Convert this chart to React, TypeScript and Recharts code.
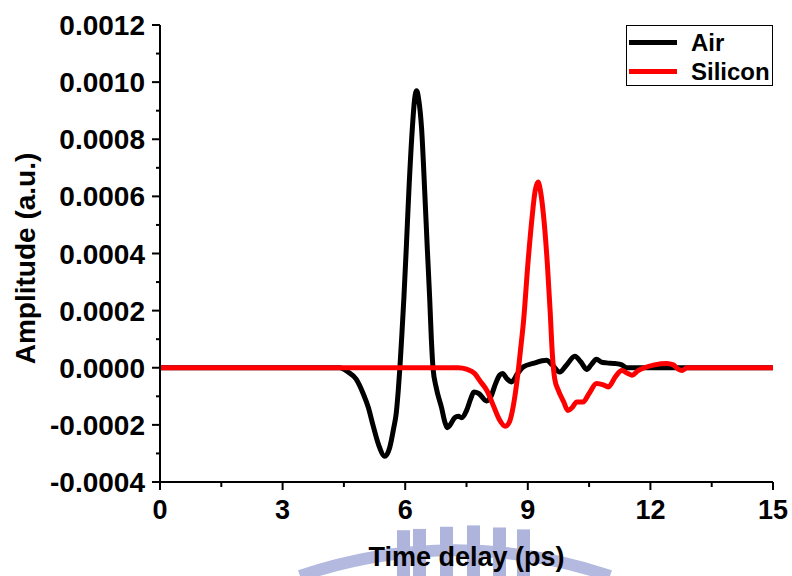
import React from 'react';
import { LineChart, Line, XAxis, YAxis, Legend, Label } from 'recharts';

// Time delay (ps) and amplitude (a.u.)
const airTime = [
  0, 4.4, 4.6, 4.8, 4.97, 5.1, 5.21, 5.35, 5.5, 5.62, 5.72, 5.78, 5.83, 5.87, 5.92, 5.97, 6.03, 6.09,
  6.18, 6.23, 6.28, 6.33, 6.4, 6.48, 6.54, 6.6, 6.64, 6.68, 6.76, 6.89, 6.97, 7.03, 7.1, 7.21, 7.3,
  7.38, 7.5, 7.6, 7.68, 7.8, 7.99, 8.1, 8.2, 8.31, 8.38, 8.5, 8.6, 8.75, 8.89, 9.13, 9.46, 9.6, 9.78,
  9.95, 10.15, 10.3, 10.44, 10.55, 10.68, 10.8, 10.93, 11.13, 11.3, 11.42, 15,
];
const airAmp = [
  0, 0, -0.000015, -0.00004, -0.00009, -0.00014, -0.0002, -0.00027, -0.00031, -0.00028, -0.00021,
  -0.00016, -0.00008, 0, 0.00012, 0.00025, 0.00043, 0.00062, 0.00085, 0.00094, 0.00097, 0.00094,
  0.00084, 0.00061, 0.00042, 0.00024, 0.0001, 0, -0.00007, -0.00014, -0.00019, -0.00021, -0.0002,
  -0.000175, -0.00017, -0.000175, -0.00015, -0.00011, -0.000085, -0.00009, -0.000116, -0.0001,
  -0.00006, -0.000026, -0.00002, -0.00004, -0.00005, -0.00002, 0.000003, 0.000015, 0.000026, 0.00001,
  -0.000015, 0.00001, 0.00004, 0.00002, -0.000006, 0.00001, 0.00003, 0.00002, 0.000017, 0.000015,
  0.00001, 0, 0,
];

const siliconTime = [
  0, 7.3, 7.5, 7.7, 7.85, 8.0, 8.15, 8.3, 8.45, 8.55, 8.65, 8.75, 8.82, 8.9, 9.0, 9.1, 9.18, 9.25,
  9.32, 9.4, 9.48, 9.55, 9.6, 9.66, 9.75, 9.88, 9.98, 10.08, 10.2, 10.35, 10.5, 10.68, 10.85, 10.97,
  11.15, 11.3, 11.45, 11.55, 11.7, 11.85, 12.1, 12.4, 12.56, 12.68, 12.77, 12.9, 15,
];
const siliconAmp = [
  0, 0, -0.000005, -0.00002, -0.00005, -0.00008, -0.00013, -0.00018, -0.000205, -0.00019, -0.00013,
  -0.00003, 0.00006, 0.00017, 0.00036, 0.00052, 0.00062, 0.00065, 0.00061, 0.00051, 0.00036, 0.00019,
  0.00005, -0.00004, -0.00008, -0.00012, -0.00015, -0.00014, -0.00012, -0.00012, -0.00009,
  -0.000055, -0.00006, -0.000067, -0.00003, -0.00001, -0.00002, -0.000026, -0.00001, 0, 0.00001,
  0.000015, 0.00001, -0.000005, -0.00001, 0, 0,
];

const xTicks = [0, 1.5, 3, 4.5, 6, 7.5, 9, 10.5, 12, 13.5, 15];
const xMajor = [0, 3, 6, 9, 12, 15];
const yTicks = [
  -0.0004, -0.0003, -0.0002, -0.0001, 0, 0.0001, 0.0002, 0.0003, 0.0004, 0.0005, 0.0006, 0.0007,
  0.0008, 0.0009, 0.001, 0.0011, 0.0012,
];
const yMajor = [-0.0004, -0.0002, 0, 0.0002, 0.0004, 0.0006, 0.0008, 0.001, 0.0012];

const airData = airTime.map((t, i) => ({ t, amp: airAmp[i] }));
const siliconData = siliconTime.map((t, i) => ({ t, amp: siliconAmp[i] }));

const FONT = '"Liberation Sans", Arial, Helvetica, sans-serif';
const AXIS = { stroke: '#000', strokeWidth: 2 };

const isMajor = (v: number, list: number[]) => list.some((m) => Math.abs(m - v) < 1e-9);

function BottomTick({ x, y, payload }: any) {
  const major = isMajor(payload.value, xMajor);
  return (
    <g>
      <line x1={x} x2={x} y1={y} y2={y + (major ? 8 : 5)} stroke="#000" strokeWidth={2} />
      {major && (
        <text x={x} y={y + 37} textAnchor="middle" fontSize={27} fontWeight="bold" fontFamily={FONT} fill="#000">
          {payload.value}
        </text>
      )}
    </g>
  );
}

function TopTick({ x, y, payload }: any) {
  if (payload.value === 0 || payload.value === 15) return <g />;
  return <line x1={x} x2={x} y1={y} y2={y + 7} stroke="#000" strokeWidth={2} />;
}

function LeftTick({ x, y, payload }: any) {
  const major = isMajor(payload.value, yMajor);
  return (
    <g>
      <line x1={x - (major ? 8 : 4)} x2={x} y1={y} y2={y} stroke="#000" strokeWidth={2} />
      {major && (
        <text x={x - 15} y={y + 10} textAnchor="end" fontSize={28} fontWeight="bold" fontFamily={FONT} fill="#000">
          {payload.value.toFixed(4)}
        </text>
      )}
    </g>
  );
}

function RightTick({ x, y, payload }: any) {
  if (!isMajor(payload.value, yMajor)) return <g />;
  return <line x1={x - 8} x2={x} y1={y} y2={y} stroke="#000" strokeWidth={2} />;
}

function XTitle({ viewBox }: any) {
  const { x, y, width } = viewBox;
  return (
    <text x={x + width / 2} y={y + 84} textAnchor="middle" fontSize={27} fontWeight="bold" fontFamily={FONT} fill="#000">
      Time delay (ps)
    </text>
  );
}

function YTitle({ viewBox }: any) {
  const { y, height } = viewBox;
  const cx = 25;
  const cy = y + height / 2 + 5;
  return (
    <text
      x={cx}
      y={cy}
      transform={`rotate(-90 ${cx} ${cy})`}
      textAnchor="middle"
      dominantBaseline="central"
      fontSize={28}
      fontWeight="bold"
      fontFamily={FONT}
      fill="#000"
    >
      Amplitude (a.u.)
    </text>
  );
}

function LegendBox({ payload }: any) {
  return (
    <div
      style={{
        width: 147,
        height: 61,
        boxSizing: 'border-box',
        border: '1px solid #000',
        background: '#fff',
        fontFamily: FONT,
        fontWeight: 'bold',
        fontSize: 24,
        paddingTop: 2,
      }}
    >
      {(payload || []).map((p: any) => (
        <div key={p.value} style={{ display: 'flex', alignItems: 'center', height: 29 }}>
          <span style={{ display: 'inline-block', width: 48, height: 5, background: p.color, marginLeft: 2 }} />
          <span style={{ marginLeft: 14, color: '#000', lineHeight: '29px' }}>{p.value}</span>
        </div>
      ))}
    </div>
  );
}

// faint watermark emblem behind the axis title
function Watermark() {
  const bars = [397, 413, 440, 467, 493, 517];
  return (
    <svg width={792} height={576} style={{ position: 'absolute', left: 0, top: 0 }}>
      <path d="M 300 576 A 480 480 0 0 1 610 576" fill="none" stroke="#b3b9df" strokeWidth={12} />
      {bars.map((bx, i) => (
        <rect key={i} x={bx} y={525 + Math.abs(bx - 462) * 0.08} width={13} height={60} fill="#aeb4dc" />
      ))}
    </svg>
  );
}

export default function App() {
  return (
    <div style={{ position: 'relative', width: 792, height: 576, background: '#fff' }}>
      <style>{'body{margin:0}'}</style>
      <Watermark />
      <LineChart
        width={792}
        height={576}
        margin={{ top: 25, right: 19, bottom: 0, left: 0 }}
        style={{ position: 'absolute', left: 0, top: 0 }}
      >
        <XAxis
          dataKey="t"
          type="number"
          domain={[0, 15]}
          ticks={xTicks}
          interval={0}
          height={94}
          axisLine={AXIS}
          tickLine={false}
          tickSize={0}
          tickMargin={0}
          tick={BottomTick}
          allowDataOverflow
        >
          <Label content={XTitle} />
        </XAxis>
        <XAxis
          xAxisId="top"
          orientation="top"
          type="number"
          domain={[0, 15]}
          ticks={xTicks}
          interval={0}
          height={0}
          axisLine={AXIS}
          tickLine={false}
          tickSize={0}
          tickMargin={0}
          tick={TopTick}
          allowDataOverflow
        />
        <YAxis
          type="number"
          domain={[-0.0004, 0.0012]}
          ticks={yTicks}
          interval={0}
          width={160}
          axisLine={AXIS}
          tickLine={false}
          tickSize={0}
          tickMargin={0}
          tick={LeftTick}
          allowDataOverflow
        >
          <Label content={YTitle} />
        </YAxis>
        <YAxis
          yAxisId="right"
          orientation="right"
          type="number"
          domain={[-0.0004, 0.0012]}
          ticks={yTicks}
          interval={0}
          width={0}
          axisLine={AXIS}
          tickLine={false}
          tickSize={0}
          tickMargin={0}
          tick={RightTick}
          allowDataOverflow
        />
        <Legend
          layout="horizontal"
          verticalAlign="middle"
          align="center"
          content={LegendBox}
          wrapperStyle={{ position: 'absolute', left: 626, top: 25, width: 147, height: 61 }}
        />
        <Line
          data={airData}
          dataKey="amp"
          name="Air"
          type="monotone"
          stroke="#000"
          strokeWidth={5}
          dot={false}
          activeDot={false}
          isAnimationActive={false}
        />
        <Line
          data={siliconData}
          dataKey="amp"
          name="Silicon"
          type="monotone"
          stroke="#ff0000"
          strokeWidth={5}
          dot={false}
          activeDot={false}
          isAnimationActive={false}
        />
      </LineChart>
    </div>
  );
}
